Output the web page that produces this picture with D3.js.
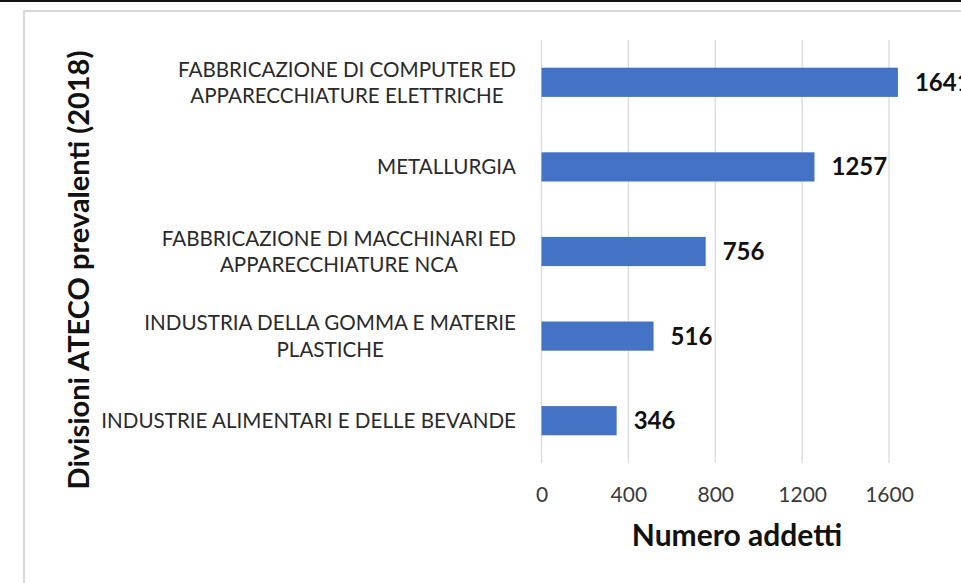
<!DOCTYPE html>
<html>
<head>
<meta charset="utf-8">
<script src="https://cdn.jsdelivr.net/npm/d3@7"></script>
<style>
  body { margin: 0; background: #fff; }
  svg { display: block; font-family: Lato, "Open Sans", sans-serif; }
</style>
</head>
<body>
<script>
var width = 961;
var height = 583;

// Data (top to bottom, as in the picture)
var categories = [
  ["FABBRICAZIONE DI COMPUTER ED", "APPARECCHIATURE ELETTRICHE"],
  ["METALLURGIA"],
  ["FABBRICAZIONE DI MACCHINARI ED", "APPARECCHIATURE NCA"],
  ["INDUSTRIA DELLA GOMMA E MATERIE", "PLASTICHE"],
  ["INDUSTRIE ALIMENTARI E DELLE BEVANDE"]
];
var values = [1641, 1257, 756, 516, 346];
var xTicks = [0, 400, 800, 1200, 1600];
var xTitle = "Numero addetti";
var yTitle = "Divisioni ATECO prevalenti (2018)";

var plot = { left: 541.5, right: 889, top: 40, bottom: 463 };

var svg = d3.select('body')
  .append('svg')
  .attr('width', width)
  .attr('height', height);

// top dark edge and chart frame
svg.append('rect')
  .attr('x', 0).attr('y', 0)
  .attr('width', width).attr('height', 2)
  .attr('fill', '#111');

svg.append('rect')
  .attr('x', 24).attr('y', 11)
  .attr('width', width + 20).attr('height', height + 20)
  .attr('fill', 'none')
  .attr('stroke', '#d9d9d9')
  .attr('stroke-width', 2);

var xScale = d3.scaleLinear()
  .domain([0, 1600])
  .range([plot.left, plot.right]);

var yScale = d3.scaleBand()
  .domain(d3.range(categories.length))
  .range([plot.top, plot.bottom])
  .paddingInner(0.655)
  .paddingOuter(0.3275);

// gridlines
svg.append('g')
  .selectAll('line')
  .data(xTicks)
  .enter()
  .append('line')
  .attr('x1', function(d) { return xScale(d); })
  .attr('x2', function(d) { return xScale(d); })
  .attr('y1', plot.top)
  .attr('y2', plot.bottom)
  .attr('stroke', '#d9d9d9')
  .attr('stroke-width', 1.3);

// x axis labels
var xAxis = d3.axisBottom(xScale)
  .tickValues(xTicks)
  .tickFormat(d3.format('d'))
  .tickSize(0)
  .tickPadding(0);
var gx = svg.append('g')
  .attr('transform', 'translate(0,' + 502 + ')')
  .call(xAxis);
gx.select('.domain').remove();
gx.selectAll('text')
  .attr('dy', 0)
  .attr('font-family', 'Lato, sans-serif')
  .attr('font-size', 21)
  .attr('fill', '#3a3a3a');

// bars
svg.append('g')
  .selectAll('rect')
  .data(values)
  .enter()
  .append('rect')
  .attr('x', xScale(0))
  .attr('y', function(d, i) { return yScale(i); })
  .attr('width', function(d) { return xScale(d) - xScale(0); })
  .attr('height', yScale.bandwidth())
  .attr('fill', '#4472c4');

// value labels
svg.append('g')
  .selectAll('text')
  .data(values)
  .enter()
  .append('text')
  .attr('x', function(d) { return xScale(d) + 17; })
  .attr('y', function(d, i) { return yScale(i) + yScale.bandwidth() / 2 + 8.5; })
  .attr('font-size', 24)
  .attr('font-weight', 'bold')
  .attr('fill', '#111')
  .text(function(d) { return d; });

// category labels: centred block, right edge near the axis
var catG = svg.append('g')
  .selectAll('g')
  .data(categories)
  .enter()
  .append('g');

catG.each(function(lines, i) {
  var g = d3.select(this);
  var mid = yScale(i) + yScale.bandwidth() / 2;
  var lh = 26.5;
  var texts = g.selectAll('text')
    .data(lines)
    .enter()
    .append('text')
    .attr('font-size', 20.6)
    .attr('fill', '#2a2a2a')
    .attr('text-anchor', 'middle')
    .attr('y', function(d, j) { return mid + 7.5 + (j - (lines.length - 1) / 2) * lh; })
    .text(function(d) { return d; });
  var maxW = 0;
  texts.each(function() { maxW = Math.max(maxW, this.getComputedTextLength()); });
  texts.attr('x', 516 - maxW / 2);
});

// axis titles
svg.append('text')
  .attr('x', 737)
  .attr('y', 546)
  .attr('text-anchor', 'middle')
  .attr('font-size', 30)
  .attr('font-weight', 'bold')
  .attr('fill', '#111')
  .text(xTitle);

svg.append('text')
  .attr('transform', 'translate(89,270) rotate(-90)')
  .attr('text-anchor', 'middle')
  .attr('font-size', 29)
  .attr('font-weight', 'bold')
  .attr('fill', '#111')
  .text(yTitle);
</script>
</body>
</html>
